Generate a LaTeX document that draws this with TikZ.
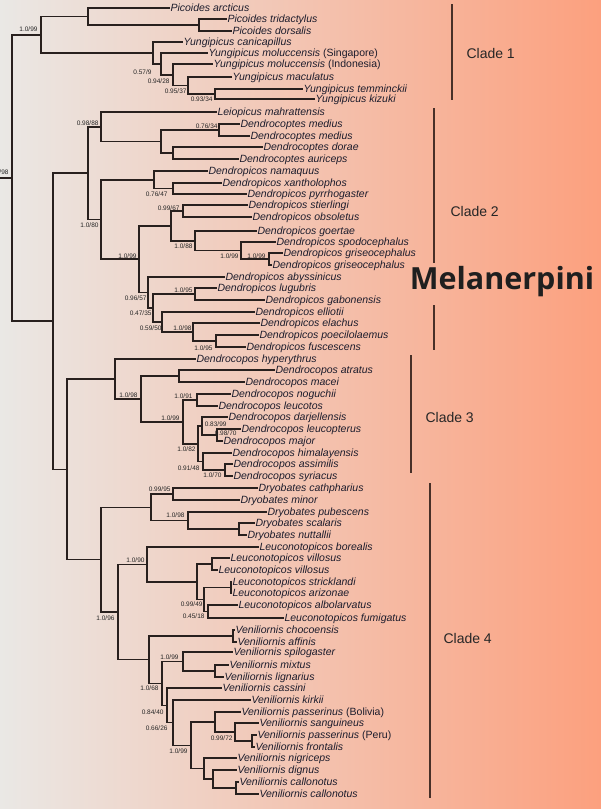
\documentclass[tikz,border=0pt]{standalone}
\usepackage{fontspec}
\setsansfont{Liberation Sans}
\newfontfamily\headfont{Open Sans}
\definecolor{bgleft}{RGB}{234,232,229}
\definecolor{bgmid}{RGB}{229,192,178}
\definecolor{bgright}{RGB}{252,160,126}
\definecolor{treeline}{RGB}{40,32,30}
\definecolor{taxink}{RGB}{28,28,44}
\definecolor{barline}{RGB}{72,48,40}

\begin{document}
\begin{tikzpicture}[x=1pt,y=-1pt,font=\sffamily,
	branch/.style={draw=treeline,line width=1.5pt},
	taxon/.style={anchor=west,inner sep=0.3pt,text=taxink,font=\sffamily\itshape\fontsize{10.5}{11}\selectfont,text height=7.5pt,text depth=0.5pt},
	support/.style={anchor=east,inner sep=0.3pt,text=black!85,font=\sffamily\fontsize{6.5}{7}\selectfont,text height=4.7pt,text depth=0pt},
	cladebar/.style={draw=barline,line width=1.4pt},
	cladename/.style={anchor=west,text=black!85,font=\sffamily\fontsize{14}{16}\selectfont}]
				\clip (0,0) rectangle (601,809);
				\shade[left color=bgleft,middle color=bgmid,right color=bgright] (0,0) rectangle (601,809);

				\foreach \n/\x/\y/\t in {
					arcticus/170/8/{Picoides arcticus},tridactylus/227/19/{Picoides tridactylus},dorsalis/232/31/{Picoides dorsalis},
					canicapillus/183/42/{Yungipicus canicapillus},molS/208/53/{Yungipicus moluccensis {\upshape(Singapore)}},molI/213/64/{Yungipicus moluccensis {\upshape(Indonesia)}},
					maculatus/232/77/{Yungipicus maculatus},temminckii/303/89/{Yungipicus temminckii},kizuki/315/99/{Yungipicus kizuki},
					leiopicus/217/112/{Leiopicus mahrattensis},medA/240/124/{Dendrocoptes medius},medB/250/136/{Dendrocoptes medius},
					dorae/263/147/{Dendrocoptes dorae},auriceps/239/159/{Dendrocoptes auriceps},
					namaquus/208/171/{Dendropicos namaquus},xantholophos/222/183/{Dendropicos xantholophos},pyrrhogaster/247/194/{Dendropicos pyrrhogaster},
					stierlingi/248/205/{Dendropicos stierlingi},obsoletus/252/217/{Dendropicos obsoletus},goertae/257/231/{Dendropicos goertae},
					spodocephalus/276/242/{Dendropicos spodocephalus},griA/283/253/{Dendropicos griseocephalus},griB/272/265/{Dendropicos griseocephalus},
					abyssinicus/225/277/{Dendropicos abyssinicus},lugubris/217/288/{Dendropicos lugubris},gabonensis/265/300/{Dendropicos gabonensis},
					elliotii/255/312/{Dendropicos elliotii},elachus/260/323/{Dendropicos elachus},poecilolaemus/259/335/{Dendropicos poecilolaemus},
					fuscescens/246/347/{Dendropicos fuscescens},
					hyperythrus/196/359/{Dendrocopos hyperythrus},atratus/275/370/{Dendrocopos atratus},macei/245/382/{Dendrocopos macei},
					noguchii/231/394/{Dendrocopos noguchii},leucotos/218/406/{Dendrocopos leucotos},darjellensis/228/417/{Dendrocopos darjellensis},
					leucopterus/241/429/{Dendrocopos leucopterus},major/223/441/{Dendrocopos major},himalayensis/232/453/{Dendrocopos himalayensis},
					assimilis/233/464/{Dendrocopos assimilis},syriacus/233/476/{Dendrocopos syriacus},
					cathpharius/258/488/{Dryobates cathpharius},minor/240/500/{Dryobates minor},pubescens/267/512/{Dryobates pubescens},
					scalaris/255/523/{Dryobates scalaris},nuttallii/247/535/{Dryobates nuttallii},
					borealis/259/547/{Leuconotopicos borealis},vilA/230/558/{Leuconotopicos villosus},vilB/218/570/{Leuconotopicos villosus},
					stricklandi/232/582/{Leuconotopicos stricklandi},arizonae/232/593/{Leuconotopicos arizonae},albolarvatus/238/605/{Leuconotopicos albolarvatus},
					fumigatus/284/618/{Leuconotopicos fumigatus},
					chocoensis/235/630/{Veniliornis chocoensis},affinis/237/642/{Veniliornis affinis},spilogaster/233/652/{Veniliornis spilogaster},
					mixtus/229/665/{Veniliornis mixtus},lignarius/224/677/{Veniliornis lignarius},cassini/222/688/{Veniliornis cassini},
					kirkii/251/700/{Veniliornis kirkii},pasB/241/712/{Veniliornis passerinus {\upshape(Bolivia)}},sanguineus/259/723/{Veniliornis sanguineus},
					pasP/257/735/{Veniliornis passerinus {\upshape(Peru)}},frontalis/255/747/{Veniliornis frontalis},nigriceps/237/758/{Veniliornis nigriceps},
					dignus/237/770/{Veniliornis dignus},calA/239/782/{Veniliornis callonotus},calB/259/794/{Veniliornis callonotus}}{
					\node[taxon] (\n) at (\x,\y) {\t};
				}

				\foreach \n/\x/\y in {
					root/12/178,cl1/41/34.75,pic/88/16.5,picTD/199/25,yung/153/53,ySing/161/63.9,yInd/173/74.75,yMac/188/85.5,yKT/215/94,
					melB/53/321.2,cl2/88/173.1,leio/101/126.75,dcop/161/141.5,medN/219/130,dorN/173/153,
					dlow/101/219.5,namN/154/179.75,xanN/173/188.5,dpic/139/259.2,stiG/171/225.9,stiN/183/211,goeN/195/240.75,spoN/241/250.5,griN/269/259,
					abyN/148/292.5,lugE/153/308,lugN/195/294,ellN/162/322,elaN/193/332,poeN/216/341,
					d34/67/469.3,cl3/115/379,atrD/141/398.9,atrN/179/376,nogD/183/421.9,nogN/197/400,darH/198/443.75,darN/202/426,majN/217/435,himN/203/461.5,syrN/225/470,
					cl4/101/559.6,dryo/151/507.25,catN/173/494,pubN/188/520.5,scaN/239/529,
					lv/118/612,leuc/147/564.4,vilS/197/581.75,vilN/212/564,strA/204/599.5,strN/231/587.5,albN/208/611.5,
					veni/149/659.7,choN/233/636,spiC/162/683.4,spiN/183/661.5,mixN/215/671,casN/167/705.3,kirN/173/722.6,v745/191/745.25,
					pasN/215/722,sanN/235/732,froN/252/741,nigN/204/768.5,digN/213/779,calN/236/788}{
					\coordinate (\n) at (\x,\y);
				}
				\coordinate (stem) at (-10,178);

				\draw[branch] (root) -- (stem);
				\foreach \p/\c in {
					root/cl1,root/melB,cl1/pic,cl1/yung,pic/picTD,yung/ySing,ySing/yInd,yInd/yMac,yMac/yKT,
					melB/cl2,melB/d34,cl2/leio,cl2/dlow,leio/dcop,dcop/medN,dcop/dorN,
					dlow/namN,dlow/dpic,namN/xanN,dpic/stiG,dpic/abyN,stiG/stiN,stiG/goeN,goeN/spoN,spoN/griN,
					abyN/lugE,lugE/lugN,lugE/ellN,ellN/elaN,elaN/poeN,
					d34/cl3,d34/cl4,cl3/atrD,atrD/atrN,atrD/nogD,nogD/nogN,nogD/darH,darH/darN,darH/himN,darN/majN,himN/syrN,
					cl4/dryo,cl4/lv,dryo/catN,dryo/pubN,pubN/scaN,
					lv/leuc,lv/veni,leuc/vilS,vilS/vilN,vilS/strA,strA/strN,strA/albN,
					veni/choN,veni/spiC,spiC/spiN,spiC/casN,spiN/mixN,casN/kirN,kirN/v745,v745/pasN,v745/nigN,
					pasN/sanN,sanN/froN,nigN/digN,digN/calN}{
					\draw[branch] (\p) |- (\c);
				}
				\foreach \p/\c in {
					pic/arcticus,picTD/tridactylus,picTD/dorsalis,yung/canicapillus,ySing/molS,yInd/molI,yMac/maculatus,yKT/temminckii,yKT/kizuki,
					leio/leiopicus,medN/medA,medN/medB,dorN/dorae,dorN/auriceps,
					namN/namaquus,xanN/xantholophos,xanN/pyrrhogaster,stiN/stierlingi,stiN/obsoletus,goeN/goertae,spoN/spodocephalus,griN/griA,griN/griB,
					abyN/abyssinicus,lugN/lugubris,lugN/gabonensis,ellN/elliotii,elaN/elachus,poeN/poecilolaemus,poeN/fuscescens,
					cl3/hyperythrus,atrN/atratus,atrN/macei,nogN/noguchii,nogN/leucotos,darN/darjellensis,majN/leucopterus,majN/major,
					himN/himalayensis,syrN/assimilis,syrN/syriacus,
					catN/cathpharius,catN/minor,pubN/pubescens,scaN/scalaris,scaN/nuttallii,
					leuc/borealis,vilN/vilA,vilN/vilB,strN/stricklandi,strN/arizonae,albN/albolarvatus,albN/fumigatus,
					choN/chocoensis,choN/affinis,spiN/spilogaster,mixN/mixtus,mixN/lignarius,casN/cassini,kirN/kirkii,pasN/pasB,
					sanN/sanguineus,froN/pasP,froN/frontalis,nigN/nigriceps,digN/dignus,calN/calA,calN/calB}{
					\draw[branch] (\p) |- (\c.west);
				}

				\foreach \v/\x/\y [count=\i] in {
					{1.0/98}/9/172,{1.0/99}/38/29,{0.57/9}/152/72,{0.94/28}/170/81,{0.95/37}/187/91,{0.93/34}/213/99,
					{0.98/88}/99/123,{0.76/34}/218/126,{0.76/47}/168/194,{0.99/67}/180/208,{1.0/80}/99/225,{1.0/88}/193/246,
					{1.0/99}/239/256,{1.0/99}/266/256,{1.0/99}/137/256,{0.96/57}/147/298,{1.0/95}/193/290,{0.47/35}/152/313,
					{0.59/50}/162/328,{1.0/98}/192/328,{1.0/95}/213/348,
					{1.0/98}/138/395,{1.0/91}/193/396,{1.0/99}/180/418,{0.83/99}/227/424,{0.98/70}/237/433,{1.0/82}/196/449,
					{0.91/48}/200/468,{1.0/70}/222/475,
					{0.99/95}/171/489,{1.0/98}/185/515,{1.0/90}/145/560,{0.99/49}/203/604,{0.45/18}/205/616,{1.0/96}/115/618,
					{1.0/99}/179/657,{1.0/68}/159/688,{0.84/40}/164/712,{0.66/26}/168/728,{0.99/72}/233/738,{1.0/99}/188/751}{
					\node[support] (s\i) at (\x,\y) {\v};
				}

				\coordinate (c1top) at (452,4);
				\coordinate (c1bot) at (452,100);
				\coordinate (c2top) at (434,108);
				\coordinate (c2bot) at (434,263);
				\coordinate (c2ltop) at (434,305);
				\coordinate (c2lbot) at (434,350);
				\coordinate (c3top) at (411,355);
				\coordinate (c3bot) at (411,473);
				\coordinate (c4top) at (430,483);
				\coordinate (c4bot) at (430,798);
				\draw[cladebar] (c1top) -- (c1bot);
				\draw[cladebar] (c2top) -- (c2bot);
				\draw[cladebar] (c2ltop) -- (c2lbot);
				\draw[cladebar] (c3top) -- (c3bot);
				\draw[cladebar] (c4top) -- (c4bot);
				\node[cladename] (clade1) at (463,53) {Clade 1};
				\node[cladename] (clade2) at (447,211) {Clade 2};
				\node[cladename] (clade3) at (422,417) {Clade 3};
				\node[cladename] (clade4) at (440,638) {Clade 4};
				\node[text=black!88,font=\headfont\bfseries\fontsize{30.5}{32}\selectfont] (tribe) at (502,282) {Melanerpini};
			\end{tikzpicture}
\end{document}
